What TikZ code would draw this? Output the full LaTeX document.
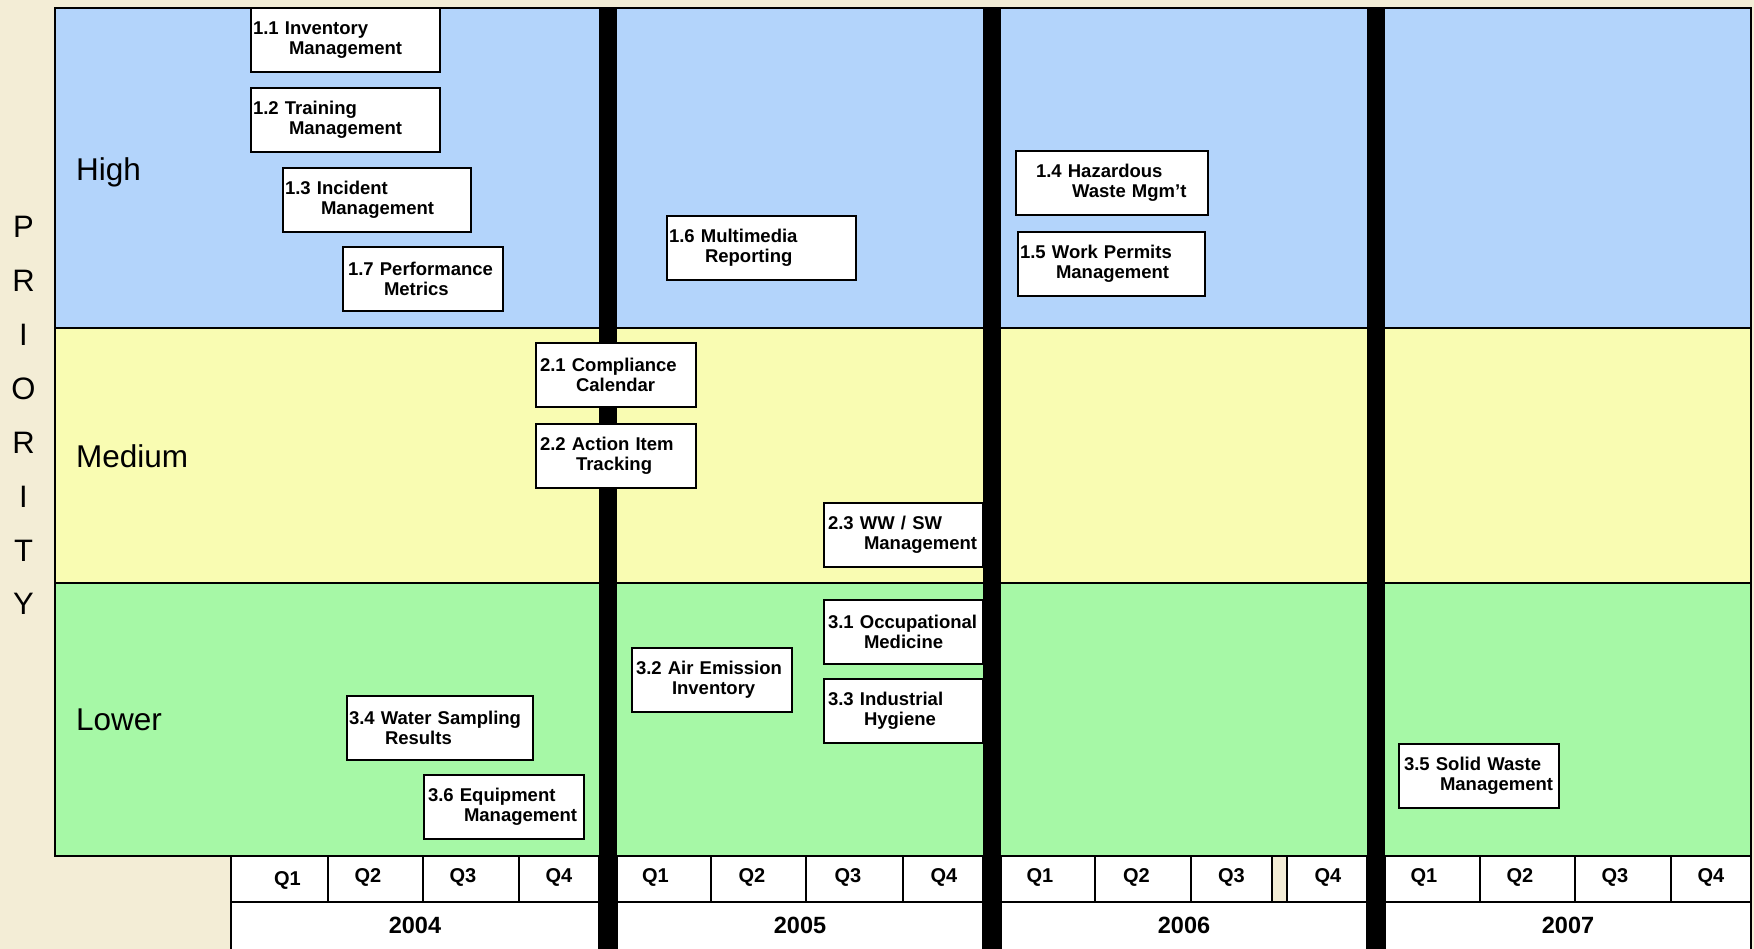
\documentclass[tikz,border=0pt]{standalone}
\usepackage{fontspec}
\setmainfont{Liberation Sans}
\definecolor{paper}{RGB}{243,237,214}
\definecolor{highband}{RGB}{179,212,251}
\definecolor{medband}{RGB}{249,252,178}
\definecolor{lowband}{RGB}{166,248,166}

\begin{document}
\begin{tikzpicture}[x=1pt,y=-1pt,
  task/.style={draw=black, line width=2.4pt, fill=white, anchor=north west,
    outer sep=0pt, inner xsep=2pt, inner ysep=0pt, minimum height=64pt, align=left,
    font=\bfseries\fontsize{18.5}{20}\selectfont},
  bandline/.style={draw=black, line width=2.6pt},
  cell/.style={draw=black, line width=2.4pt, fill=white},
  bar/.style={fill=black},
  qlabel/.style={font=\bfseries\fontsize{20}{22}\selectfont, inner sep=0pt},
  ylabel/.style={font=\bfseries\fontsize{23.5}{26}\selectfont, inner sep=0pt},
  level/.style={font=\fontsize{31.5}{34}\selectfont, anchor=west, inner sep=0pt},
  axisletter/.style={font=\fontsize{31}{34}\selectfont, inner sep=0pt}
]
\clip (0,0) rectangle (1754,949);
\fill[paper] (0,0) rectangle (1754,949);

% priority bands
\fill[highband] (55,8) rectangle (1751,328);
\fill[medband] (55,328) rectangle (1751,583);
\fill[lowband] (55,583) rectangle (1751,856);
\draw[bandline] (55,8) rectangle (1751,856);
\draw[bandline] (55,328) -- (1751,328);
\draw[bandline] (55,583) -- (1751,583);

% quarter row
\foreach \a/\b in {231/328,328/423,423/519,519/599,
                   617/711,711/806,806/903,903/983,
                   1001/1095,1095/1191,1191/1272,1287/1367,
                   1385/1480,1480/1575,1575/1671,1671/1751}
  \draw[cell] (\a,856) rectangle (\b,902);
% year row
\foreach \a/\b in {231/599,617/983,1001/1367,1385/1751}
  \draw[cell] (\a,902) rectangle (\b,952);

% year separators
\fill[bar] (599,7) rectangle (617,950);
\fill[bar] (983,7) rectangle (1001,950);
\fill[bar] (1367,7) rectangle (1385,950);

% quarter labels
\node[qlabel] (q04a) at (287.5,880) {Q1};
\node[qlabel] (q04b) at (368,877) {Q2};
\node[qlabel] (q04c) at (463,877) {Q3};
\node[qlabel] (q04d) at (559,877) {Q4};
\node[qlabel] (q05a) at (655.5,877) {Q1};
\node[qlabel] (q05b) at (752,877) {Q2};
\node[qlabel] (q05c) at (848,877) {Q3};
\node[qlabel] (q05d) at (944,877) {Q4};
\node[qlabel] (q06a) at (1040,877) {Q1};
\node[qlabel] (q06b) at (1136.5,877) {Q2};
\node[qlabel] (q06c) at (1231.5,877) {Q3};
\node[qlabel] (q06d) at (1328,877) {Q4};
\node[qlabel] (q07a) at (1424,877) {Q1};
\node[qlabel] (q07b) at (1520,877) {Q2};
\node[qlabel] (q07c) at (1615,877) {Q3};
\node[qlabel] (q07d) at (1711,877) {Q4};

% year labels
\node[ylabel] (y04) at (415,925) {2004};
\node[ylabel] (y05) at (800,925) {2005};
\node[ylabel] (y06) at (1184,925) {2006};
\node[ylabel] (y07) at (1568,925) {2007};

% priority axis
\foreach \ch [count=\i] in {P,R,I,O,R,I,T,Y}
  \node[axisletter] (pri\i) at (23.5,{227+53.9*(\i-1)}) {\ch};

\node[level] (high) at (76,172) {High};
\node[level] (medium) at (76,456) {Medium};
\node[level] (lower) at (76,720) {Lower};

% high priority tasks
\node[task, text width=185pt] (t11) at (251,8) {1.1 Inventory\\\hspace*{36pt}Management};
\node[task, text width=185pt] (t12) at (251,88) {1.2 Training\\\hspace*{36pt}Management};
\node[task, text width=184pt] (t13) at (283,168) {1.3 Incident\\\hspace*{36pt}Management};
\node[task, text width=156pt] (t17) at (343,247) {\hspace*{3pt}1.7 Performance\\\hspace*{39pt}Metrics};
\node[task, text width=185pt] (t16) at (667,216) {1.6 Multimedia\\\hspace*{36pt}Reporting};
\node[task, text width=188pt] (t14) at (1016,151) {\hspace*{18pt}1.4 Hazardous\\\hspace*{54pt}Waste Mgm’t};
\node[task, text width=183pt] (t15) at (1018,232) {1.5 Work Permits\\\hspace*{36pt}Management};

% medium priority tasks
\node[task, text width=156pt] (t21) at (536,343) {\hspace*{2pt}2.1 Compliance\\\hspace*{38pt}Calendar};
\node[task, text width=156pt] (t22) at (536,424) {\hspace*{2pt}2.2 Action Item\\\hspace*{38pt}Tracking};
\node[task, text width=155pt] (t23) at (824,503) {\hspace*{2pt}2.3 WW / SW\\\hspace*{38pt}Management};

% lower priority tasks
\node[task, text width=155pt] (t31) at (824,600) {\hspace*{2pt}3.1 Occupational\\\hspace*{38pt}Medicine};
\node[task, text width=155pt] (t33) at (824,679) {\hspace*{2pt}3.3 Industrial\\\hspace*{38pt}Hygiene};
\node[task, text width=156pt] (t32) at (632,648) {\hspace*{2pt}3.2 Air Emission\\\hspace*{38pt}Inventory};
\node[task, text width=182pt] (t34) at (347,696) {3.4 Water Sampling\\\hspace*{36pt}Results};
\node[task, text width=156pt] (t36) at (424,775) {\hspace*{2pt}3.6 Equipment\\\hspace*{38pt}Management};
\node[task, text width=156pt] (t35) at (1399,744) {\hspace*{3pt}3.5 Solid Waste\\\hspace*{39pt}Management};
\end{tikzpicture}
\end{document}
